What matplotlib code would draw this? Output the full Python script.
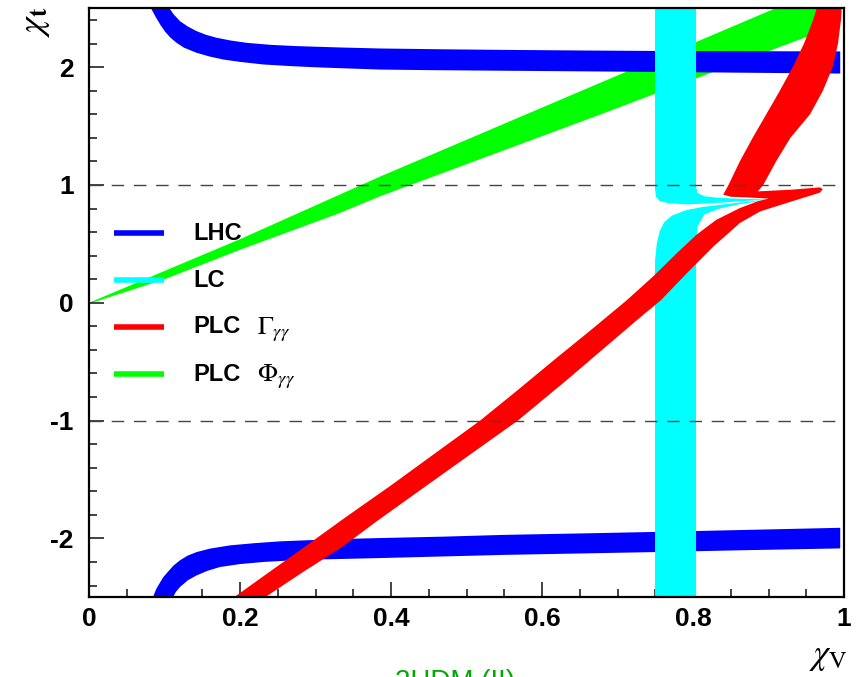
import matplotlib
matplotlib.use('Agg')
import matplotlib.pyplot as plt
import numpy as np

plt.rcParams['font.family'] = ['Liberation Sans', 'DejaVu Sans']
plt.rcParams['mathtext.fontset'] = 'stix'

# ---------------- data ----------------
# LHC upper band
lhc_up_outer_x = [0.0817, 0.088, 0.0945, 0.101, 0.108, 0.116, 0.126, 0.1426, 0.16, 0.178, 0.2, 0.231,
                  0.265, 0.297, 0.34, 0.385, 0.45, 0.55, 0.65, 0.75, 0.87, 0.995]
lhc_up_outer_y = [2.505, 2.43, 2.36, 2.30, 2.25, 2.207, 2.165, 2.122, 2.09, 2.065, 2.045, 2.023,
                  2.01, 2.0, 1.99, 1.98, 1.975, 1.97, 1.965, 1.96, 1.953, 1.946]
lhc_up_inner_x = [0.106, 0.112, 0.1205, 0.131, 0.1426, 0.155, 0.169, 0.188, 0.209, 0.24, 0.275, 0.33,
                  0.385, 0.47, 0.55, 0.65, 0.75, 0.87, 0.995]
lhc_up_inner_y = [2.505, 2.45, 2.391, 2.345, 2.306, 2.275, 2.25, 2.226, 2.207, 2.19, 2.179, 2.168,
                  2.159, 2.152, 2.147, 2.142, 2.138, 2.136, 2.134]
# LHC lower band
lhc_lo_outer_x = [0.0843, 0.089, 0.0945, 0.0985, 0.105, 0.112, 0.1205, 0.131, 0.1426, 0.16, 0.187, 0.22,
                  0.253, 0.319, 0.385, 0.47, 0.55, 0.65, 0.75, 0.87, 0.995]
lhc_lo_outer_y = [-2.505, -2.43, -2.37, -2.328, -2.28, -2.23, -2.186, -2.145, -2.116, -2.087, -2.059, -2.04,
                  -2.025, -2.008, -1.997, -1.985, -1.97, -1.958, -1.945, -1.928, -1.91]
lhc_lo_inner_x = [0.1108, 0.115, 0.1205, 0.131, 0.1426, 0.157, 0.1735, 0.2, 0.231, 0.265, 0.297, 0.385,
                  0.47, 0.55, 0.65, 0.75, 0.87, 0.995]
lhc_lo_inner_y = [-2.505, -2.455, -2.413, -2.355, -2.314, -2.275, -2.243, -2.218, -2.2, -2.188, -2.18, -2.167,
                  -2.153, -2.14, -2.128, -2.116, -2.1, -2.085]

# PLC Phi_gg (green)
phi_x = [0.0, 0.1, 0.2, 0.385, 0.677, 0.911, 0.985, 0.985, 0.964, 0.747, 0.677, 0.385, 0.332, 0.2, 0.1, 0.004]
phi_y = [0.0, 0.27, 0.54, 1.07, 1.867, 2.505, 2.505, 2.31, 2.29, 1.768, 1.598, 0.903, 0.762, 0.45, 0.2, 0.0]

# PLC Gamma_gg (red): one outline, lower band -> upper branch -> tongue -> back down
gam_x = [0.191, 0.24, 0.286, 0.34, 0.40, 0.46, 0.518, 0.568, 0.617, 0.665, 0.712, 0.747, 0.78, 0.805,
         0.831, 0.862, 0.885, 0.9,
         0.87, 0.85, 0.84,
         0.847, 0.862, 0.879, 0.897, 0.915, 0.932, 0.947, 0.959, 0.964,
         0.997,
         0.996, 0.992, 0.985, 0.972, 0.955, 0.929, 0.91, 0.893, 0.886,
         0.93, 0.968, 0.972, 0.968,
         0.924, 0.889, 0.862, 0.845, 0.827, 0.792, 0.758, 0.727, 0.696, 0.632, 0.568, 0.50, 0.43,
         0.38, 0.336, 0.28, 0.232]
gam_y = [-2.505, -2.28, -2.07, -1.82, -1.55, -1.27, -1.0, -0.74, -0.48, -0.23, 0.02, 0.223, 0.43, 0.58,
         0.705, 0.804, 0.86, 0.885,
         0.895, 0.9, 0.918,
         1.0, 1.2, 1.4, 1.6, 1.8, 2.0, 2.2, 2.4, 2.505,
         2.505,
         2.4, 2.2, 2.0, 1.8, 1.6, 1.4, 1.2, 1.0, 0.946,
         0.96, 0.98, 0.965, 0.935,
         0.847, 0.776, 0.677, 0.58, 0.478, 0.252, 0.025, -0.14, -0.31, -0.66, -1.0, -1.31, -1.63,
         -1.86, -2.07, -2.30, -2.505]

# LC (cyan) upper and lower pieces
lc_up_x = [0.7497, 0.7497, 0.751, 0.756, 0.768, 0.792, 0.836, 0.898, 0.86, 0.83, 0.815, 0.806, 0.804, 0.804]
lc_up_y = [2.505, 0.96, 0.9, 0.862, 0.845, 0.835, 0.85, 0.877, 0.884, 0.893, 0.905, 0.93, 0.99, 2.505]
lc_lo_x = [0.7497, 0.7497, 0.752, 0.756, 0.762, 0.772, 0.79, 0.814, 0.86, 0.898, 0.86, 0.835, 0.815, 0.806, 0.804, 0.804]
lc_lo_y = [-2.505, 0.36, 0.50, 0.61, 0.685, 0.74, 0.785, 0.815, 0.85, 0.875, 0.835, 0.80, 0.75, 0.65, 0.5, -2.505]

x_ticks = [0, 0.2, 0.4, 0.6, 0.8, 1.0]
x_tick_labels = ['0', '0.2', '0.4', '0.6', '0.8', '1']
y_ticks = [-2, -1, 0, 1, 2]
y_tick_labels = ['-2', '-1', '0', '1', '2']
ref_lines = [1, -1]

legend_labels = ['LHC', 'LC', 'PLC', 'PLC']
legend_extra = ['', '', r'$\Gamma_{\gamma\gamma}$', r'$\Phi_{\gamma\gamma}$']
legend_colors = ['#0000ff', '#00ffff', '#ff0000', '#00ff00']

# ---------------- figure ----------------
fig = plt.figure(figsize=(8.57, 6.77), dpi=100)
ax = fig.add_axes([89/857, 1-597.3/677, 755/857, 589/677])
ax.set_xlim(0, 1)
ax.set_ylim(-2.5, 2.5)

ax.fill(phi_x, phi_y, color='#00ff00', lw=0, zorder=1)
ax.fill(np.concatenate([lhc_up_outer_x, lhc_up_inner_x[::-1]]),
        np.concatenate([lhc_up_outer_y, lhc_up_inner_y[::-1]]), color='#0000ff', lw=0, zorder=2)
ax.fill(np.concatenate([lhc_lo_outer_x, lhc_lo_inner_x[::-1]]),
        np.concatenate([lhc_lo_outer_y, lhc_lo_inner_y[::-1]]), color='#0000ff', lw=0, zorder=2)
ax.fill(lc_up_x, lc_up_y, color='#00ffff', lw=0, zorder=3)
ax.fill(lc_lo_x, lc_lo_y, color='#00ffff', lw=0, zorder=3)
ax.fill(gam_x, gam_y, color='#ff0000', lw=0, zorder=4)

for yv in ref_lines:
    ax.axhline(yv, color='#444444', lw=1.0, ls=(0, (9, 7)), zorder=5)

# ticks
ax.set_xticks(x_ticks)
ax.set_xticklabels(x_tick_labels)
ax.set_yticks(y_ticks)
ax.set_yticklabels(y_tick_labels)
ax.set_xticks(np.arange(0, 1.0001, 0.05), minor=True)
ax.set_yticks(np.arange(-2.4, 2.41, 0.2), minor=True)
ax.tick_params(which='both', direction='in', top=False, right=False, width=1.2, color='#222222')
ax.tick_params(which='major', length=11)
ax.tick_params(which='minor', length=6)
ax.tick_params(axis='x', which='major', pad=7, labelsize=19)
ax.tick_params(axis='y', which='major', pad=11, labelsize=19)
for lab in ax.get_xticklabels() + ax.get_yticklabels():
    lab.set_fontweight('bold')
for sp in ax.spines.values():
    sp.set_linewidth(1.6)
    sp.set_zorder(10)

# legend (drawn manually)
leg_y = [0.618, 0.538, 0.459, 0.379]
for yy, lab, extra, col in zip(leg_y, legend_labels, legend_extra, legend_colors):
    ax.plot([0.033, 0.099], [yy, yy], color=col, lw=4, transform=ax.transAxes, zorder=8,
            solid_capstyle='butt')
    ax.text(0.138, yy, lab, transform=ax.transAxes, fontsize=17, fontweight='bold',
            va='center', ha='left', zorder=9)
    if extra:
        ax.text(0.222, yy - 0.004, extra, transform=ax.transAxes, fontsize=19,
                va='center', ha='left', zorder=9)

# axis titles
fig.text(35/857, 1-6/677, r'$\chi_{\mathbf{t}}$', rotation=90, fontsize=26, ha='center', va='top')
fig.text(848/857, 1-664/677, r'$\chi_{\mathrm{V}}$', fontsize=25, ha='right', va='baseline')

# cut-off green caption at the very bottom (only its top shows, as in the original)
fig.text(455/857, -12/677, '2HDM (II)', color='#00aa00', fontsize=20, ha='center', va='baseline')

fig.savefig('out.png', dpi=100)
